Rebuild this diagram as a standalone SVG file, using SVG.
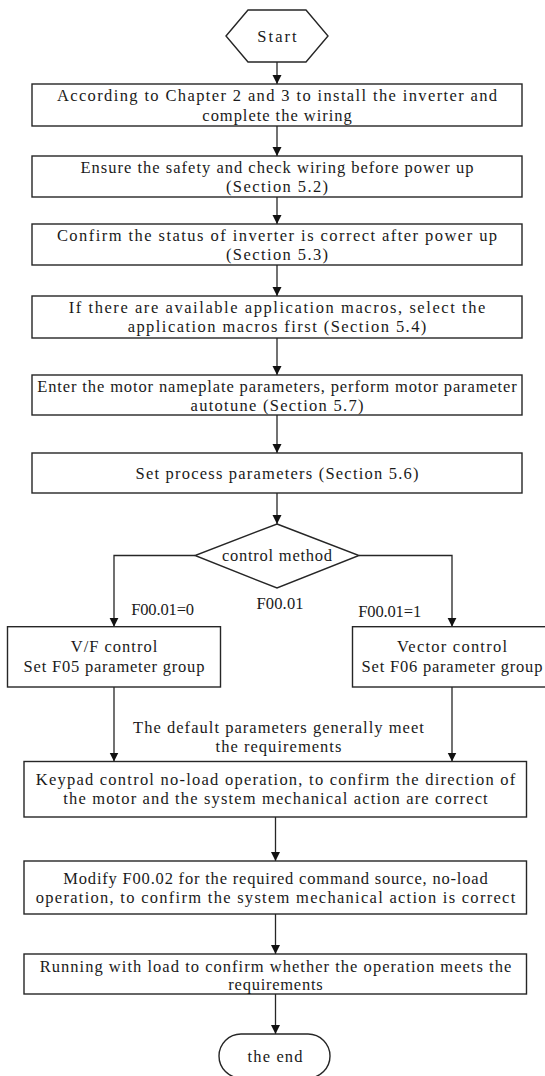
<svg xmlns="http://www.w3.org/2000/svg" width="545" height="1076" viewBox="0 0 545 1076">
<style>
.n{fill:#fff;stroke:#262626;stroke-width:1.4}
.t{font-family:"Liberation Serif","Times New Roman",serif;font-size:16.5px;fill:#1a1a1a;text-anchor:middle}
.c{fill:none;stroke:#262626;stroke-width:1.3}
</style>
<defs>
<marker id="ah" markerUnits="userSpaceOnUse" markerWidth="9" markerHeight="10" refX="9" refY="5" orient="auto">
<path d="M0,0.5 L9,5 L0,9.5 z" fill="#111"/>
</marker>
</defs>
<rect width="545" height="1076" fill="#fff"/>
<g id="connectors">
<path class="c" d="M277,62 V84" marker-end="url(#ah)"/>
<path class="c" d="M277,126 V156" marker-end="url(#ah)"/>
<path class="c" d="M277,197 V224" marker-end="url(#ah)"/>
<path class="c" d="M277,265 V296" marker-end="url(#ah)"/>
<path class="c" d="M277,338 V375" marker-end="url(#ah)"/>
<path class="c" d="M277,415 V453" marker-end="url(#ah)"/>
<path class="c" d="M277,493 V524" marker-end="url(#ah)"/>
<path class="c" d="M195,555.5 H114 V626.7" marker-end="url(#ah)"/>
<path class="c" d="M359,555.5 H452 V626.7" marker-end="url(#ah)"/>
<path class="c" d="M114,687 V761.5" marker-end="url(#ah)"/>
<path class="c" d="M452,687 V761.5" marker-end="url(#ah)"/>
<path class="c" d="M275.5,817 V861" marker-end="url(#ah)"/>
<path class="c" d="M275.5,914 V954" marker-end="url(#ah)"/>
<path class="c" d="M275.5,994 V1034" marker-end="url(#ah)"/>
<text class="t" x="162.6" y="614.5" textLength="62.9" lengthAdjust="spacing">F00.01=0</text>
<text class="t" x="280" y="608.5" textLength="47.2" lengthAdjust="spacing">F00.01</text>
<text class="t" x="389.7" y="616.5" textLength="62.9" lengthAdjust="spacing">F00.01=1</text>
<text class="t" x="278.5" y="732.5" textLength="290.8" lengthAdjust="spacing">The default parameters generally meet</text>
<text class="t" x="278.5" y="752" textLength="125.8" lengthAdjust="spacing">the requirements</text>
</g>
<g id="start">
<polygon class="n" points="226,36 248,10 306,10 328,36 306,62 248,62"/>
<text class="t" x="277" y="41.5" textLength="39.3" lengthAdjust="spacing">Start</text>
</g>
<g id="install">
<rect class="n" x="32" y="84" width="490" height="42"/>
<text class="t" x="277" y="100.5" textLength="440.2" lengthAdjust="spacing">According to Chapter 2 and 3 to install the inverter and</text>
<text class="t" x="277" y="120.5" textLength="149.3" lengthAdjust="spacing">complete the wiring</text>
</g>
<g id="safety">
<rect class="n" x="32" y="156" width="490" height="41"/>
<text class="t" x="277" y="172.5" textLength="393" lengthAdjust="spacing">Ensure the safety and check wiring before power up</text>
<text class="t" x="277" y="191.5" textLength="102.2" lengthAdjust="spacing">(Section 5.2)</text>
</g>
<g id="status">
<rect class="n" x="32" y="224" width="490" height="41"/>
<text class="t" x="277" y="240.5" textLength="440.2" lengthAdjust="spacing">Confirm the status of inverter is correct after power up</text>
<text class="t" x="277" y="259.5" textLength="102.2" lengthAdjust="spacing">(Section 5.3)</text>
</g>
<g id="macros">
<rect class="n" x="32" y="296" width="490" height="42"/>
<text class="t" x="277" y="312.5" textLength="416.6" lengthAdjust="spacing">If there are available application macros, select the</text>
<text class="t" x="277" y="331.5" textLength="298.7" lengthAdjust="spacing">application macros first (Section 5.4)</text>
</g>
<g id="motor">
<rect class="n" x="32" y="375" width="490" height="40"/>
<text class="t" x="277" y="391.5" textLength="479.5" lengthAdjust="spacing">Enter the motor nameplate parameters, perform motor parameter</text>
<text class="t" x="277" y="410.5" textLength="172.9" lengthAdjust="spacing">autotune (Section 5.7)</text>
</g>
<g id="process">
<rect class="n" x="32" y="453" width="490" height="40"/>
<text class="t" x="277" y="478.5" textLength="283" lengthAdjust="spacing">Set process parameters (Section 5.6)</text>
</g>
<g id="method">
<polygon class="n" points="277,524 359,555.5 277,588 195,555.5"/>
<text class="t" x="277" y="560.5" textLength="110" lengthAdjust="spacing">control method</text>
</g>
<g id="vf">
<rect class="n" x="7.5" y="626.7" width="213" height="60.3"/>
<text class="t" x="114" y="652" textLength="86.5" lengthAdjust="spacing">V/F control</text>
<text class="t" x="114" y="672" textLength="180.8" lengthAdjust="spacing">Set F05 parameter group</text>
</g>
<g id="vector">
<rect class="n" x="352.5" y="626.7" width="199" height="60.3"/>
<text class="t" x="452" y="652" textLength="110" lengthAdjust="spacing">Vector control</text>
<text class="t" x="452" y="672" textLength="180.8" lengthAdjust="spacing">Set F06 parameter group</text>
</g>
<g id="keypad">
<rect class="n" x="24" y="761.5" width="502.5" height="55.5"/>
<text class="t" x="275.5" y="784.5" textLength="479.5" lengthAdjust="spacing">Keypad control no-load operation, to confirm the direction of</text>
<text class="t" x="275.5" y="803.5" textLength="424.4" lengthAdjust="spacing">the motor and the system mechanical action are correct</text>
</g>
<g id="modify">
<rect class="n" x="24" y="861" width="502.5" height="53"/>
<text class="t" x="275.5" y="883.5" textLength="424.4" lengthAdjust="spacing">Modify F00.02 for the required command source, no-load</text>
<text class="t" x="275.5" y="902.5" textLength="479.5" lengthAdjust="spacing">operation, to confirm the system mechanical action is correct</text>
</g>
<g id="load">
<rect class="n" x="24" y="954" width="502.5" height="40"/>
<text class="t" x="275.5" y="971.5" textLength="471.6" lengthAdjust="spacing">Running with load to confirm whether the operation meets the</text>
<text class="t" x="275.5" y="989.5" textLength="94.3" lengthAdjust="spacing">requirements</text>
</g>
<g id="end">
<rect class="n" x="219" y="1034" width="111" height="44" rx="22" ry="22"/>
<text class="t" x="275" y="1061.5" textLength="55" lengthAdjust="spacing">the end</text>
</g>
</svg>
